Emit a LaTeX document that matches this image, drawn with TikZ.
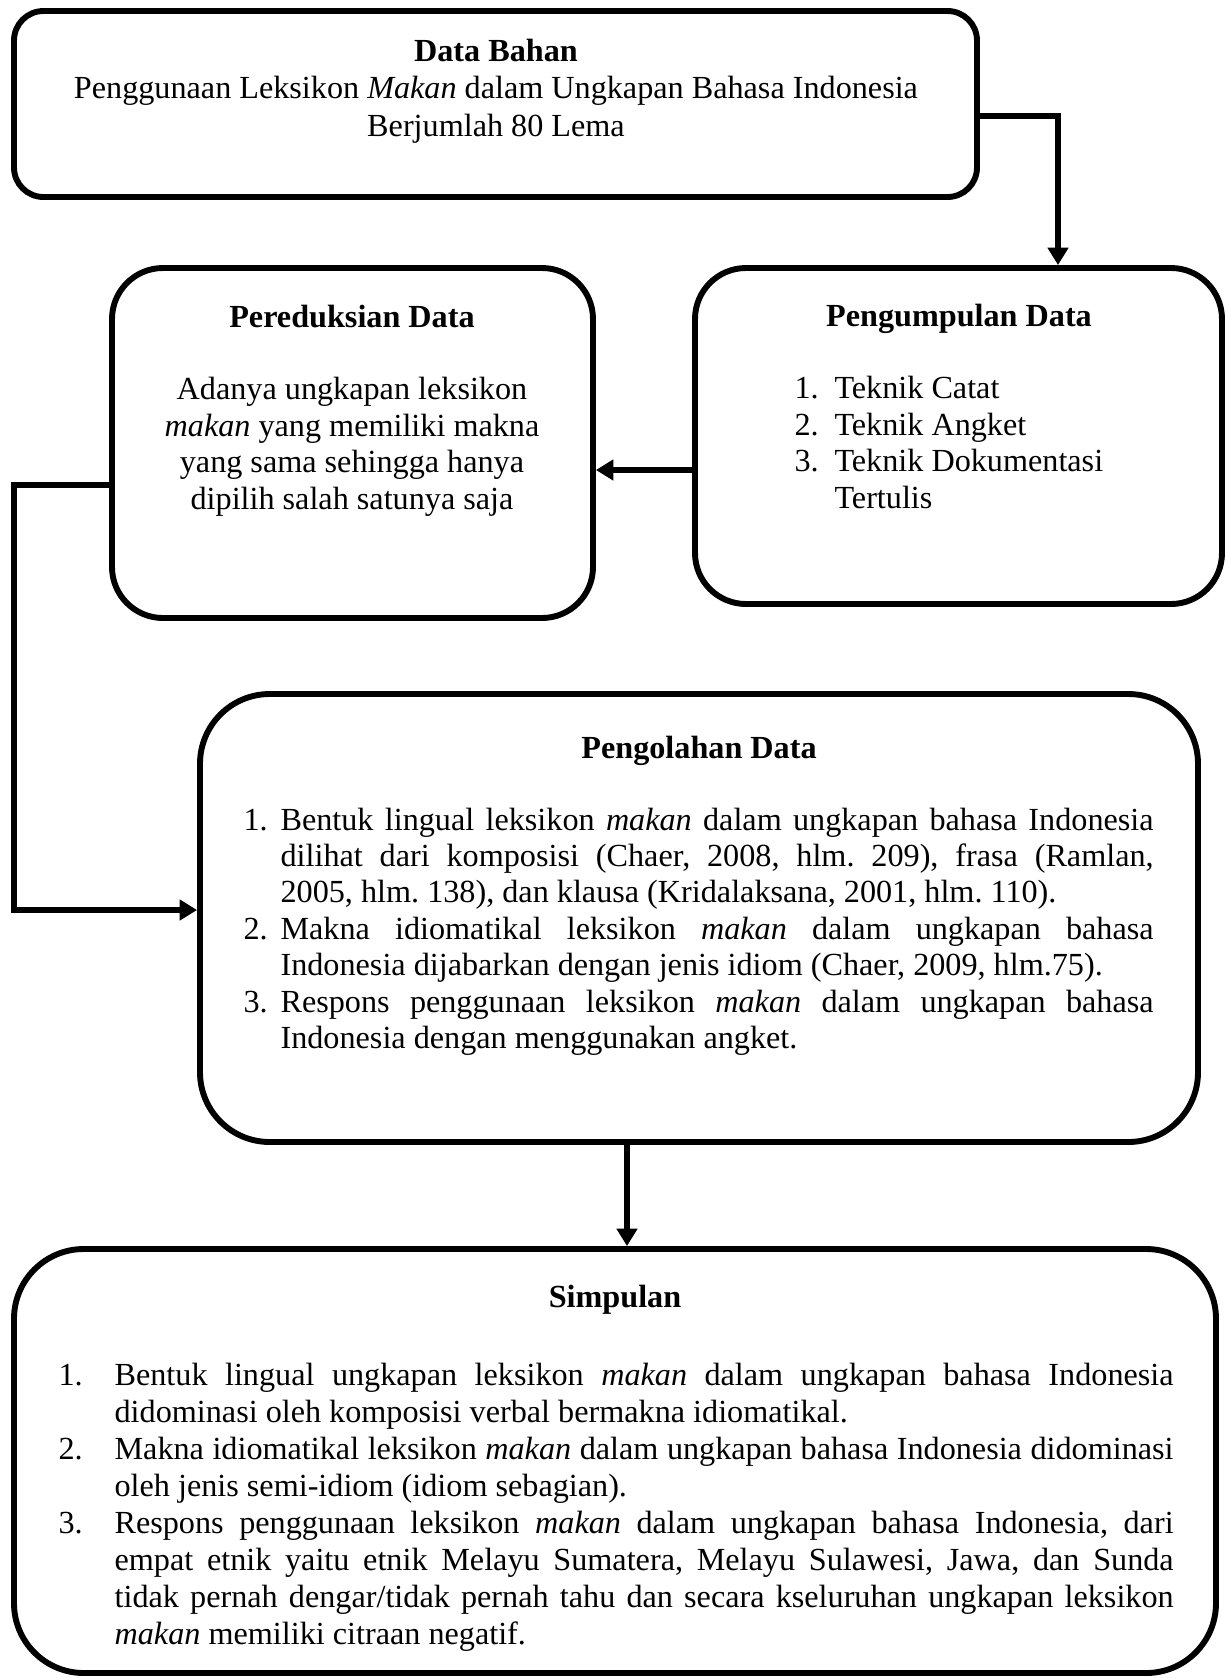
\documentclass[tikz,border=0pt]{standalone}
\usepackage{fontspec}
\setmainfont{Liberation Serif}
\usepackage{tikz}
\usetikzlibrary{arrows.meta,fit,positioning}

\frenchspacing
\hyphenpenalty=10000
\exhyphenpenalty=10000
\tolerance=9999
\emergencystretch=3em

\newcommand{\butir}[2]{\hangindent=#1\hangafter=1\noindent\makebox[#1][l]{#2}\ignorespaces}

\begin{document}
\begin{tikzpicture}[x=0.3727pt,y=-0.3727pt,
    kotak/.style={draw,line width=2.2pt,inner sep=0pt},
    panah/.style={line width=2.2pt,-{Triangle[length=6.5pt,width=7.5pt]}},
    teks/.style={inner sep=0pt,anchor=base,font=\fontsize{12}{13.6}\selectfont},
    judul/.style={inner sep=0pt,anchor=base,font=\fontsize{12}{13.6}\selectfont\bfseries}]

    \useasboundingbox (0,0) rectangle (1226,1678);

    \node[kotak,rounded corners=11pt,fit={(14,11) (977,197)}]     (bahan)   {};
    \node[kotak,rounded corners=19pt,fit={(112,268) (593,618)}]   (reduksi) {};
    \node[kotak,rounded corners=19pt,fit={(695,268) (1222,604)}]  (kumpul)  {};
    \node[kotak,rounded corners=26pt,fit={(200,694) (1198,1142)}] (olah)    {};
    \node[kotak,rounded corners=26pt,fit={(14,1249) (1216,1673)}] (simpul)  {};

    \node[teks,align=center,font=\fontsize{12}{13.8}\selectfont] (tbahan) at (496,136)
      {\textbf{Data Bahan}\\Penggunaan Leksikon \textit{Makan} dalam Ungkapan Bahasa Indonesia\\Berjumlah 80 Lema};

    \node[judul] (jreduksi) at (352,327) {Pereduksian Data};
    \node[teks,align=center] (treduksi) at (352,509)
      {Adanya ungkapan leksikon\\\textit{makan} yang memiliki makna\\yang sama sehingga hanya\\dipilih salah satunya saja};

    \node[judul] (jkumpul) at (959,326) {Pengumpulan Data};
    \node[teks,align=left,anchor=base west] (tkumpul) at (794,508)
      {\makebox[14.9pt][l]{1.}Teknik Catat\\\makebox[14.9pt][l]{2.}Teknik Angket\\
       \makebox[14.9pt][l]{3.}Teknik Dokumentasi\\\hspace*{14.9pt}Tertulis};

    \node[judul] (jolah) at (699,758) {Pengolahan Data};
    \node[teks,text width=339.2pt,align=justify,anchor=base west] (tolah) at (243,830)
      {\butir{13.8pt}{1.}Bentuk lingual leksikon \textit{makan} dalam ungkapan bahasa Indonesia\linebreak
       dilihat dari komposisi (Chaer, 2008, hlm. 209), frasa (Ramlan,\linebreak
       2005, hlm. 138), dan klausa (Kridalaksana, 2001, hlm. 110).\par
       \butir{13.8pt}{2.}Makna idiomatikal leksikon \textit{makan} dalam ungkapan bahasa\linebreak
       Indonesia dijabarkan dengan jenis idiom (Chaer, 2009, hlm.75).\par
       \butir{13.8pt}{3.}Respons penggunaan leksikon \textit{makan} dalam ungkapan bahasa\linebreak
       Indonesia dengan menggunakan angket.\par};

    \node[judul] (jsimpul) at (615,1307) {Simpulan};
    \node[teks,text width=415.6pt,align=justify,anchor=base west,font=\fontsize{12}{13.83}\selectfont] (tsimpul) at (58,1385)
      {\butir{20.9pt}{1.}Bentuk lingual ungkapan leksikon \textit{makan} dalam ungkapan bahasa Indonesia\linebreak
       didominasi oleh komposisi verbal bermakna idiomatikal.\par
       \butir{20.9pt}{2.}Makna idiomatikal leksikon \textit{makan} dalam ungkapan bahasa Indonesia didominasi\linebreak
       oleh jenis semi-idiom (idiom sebagian).\par
       \butir{20.9pt}{3.}Respons penggunaan leksikon \textit{makan} dalam ungkapan bahasa Indonesia, dari\linebreak
       empat etnik yaitu etnik Melayu Sumatera, Melayu Sulawesi, Jawa, dan Sunda\linebreak
       tidak pernah dengar/tidak pernah tahu dan secara kseluruhan ungkapan leksikon\linebreak
       \textit{makan} memiliki citraan negatif.\par};

    \coordinate (belok) at (14,485);
    \draw[panah] (bahan.east |- 0,116) -| (kumpul.north -| 1058,0);
    \draw[panah] (kumpul.west |- 0,470) -- (reduksi.east |- 0,470);
    \draw[panah] (reduksi.west |- belok) -- (belok) |- (olah.west |- 0,910);
    \draw[panah] (olah.south -| 627,0) -- (simpul.north -| 627,0);
\end{tikzpicture}
\end{document}
